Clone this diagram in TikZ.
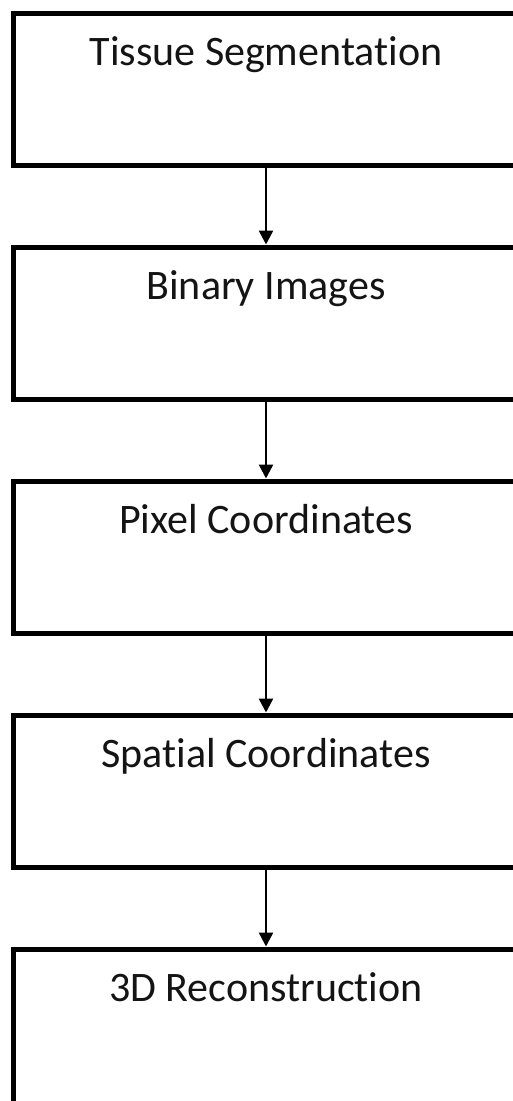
\documentclass[tikz,border=0pt]{standalone}
\usepackage{fontspec}
\setmainfont{Carlito}[Ligatures=NoCommon]
\usetikzlibrary{arrows.meta}
\begin{document}
\begin{tikzpicture}[x=1pt,y=1pt,
  stagebox/.style={draw=black, line width=5pt, rectangle, minimum width=505pt, minimum height=152pt, inner sep=0pt, anchor=north},
  stagelabel/.style={anchor=base, inner sep=0pt, text=black!92, font=\fontsize{42}{44}\selectfont},
  flow/.style={draw=black, line width=2.5pt, -{Triangle[width=14pt,length=14pt]}}]
\useasboundingbox (0,0) rectangle (512,-1101);
\fill[white] (0,0) rectangle (512,-1101);
% five process stages, stacked top to bottom; the last one runs off the page
\node[stagebox] (b1) at (266,-10.5) {};
\node[stagebox] (b2) at (266,-244.5) {};
\node[stagebox] (b3) at (266,-478.5) {};
\node[stagebox] (b4) at (266,-712.5) {};
\node[stagebox, minimum height=200pt] (b5) at (266,-946.5) {};
% stage titles
\node[stagelabel] (t1) at ([yshift=-55pt]b1.north) {Tissue Segmentation};
\node[stagelabel] (t2) at ([yshift=-55pt]b2.north) {Binary Images};
\node[stagelabel] (t3) at ([yshift=-55pt]b3.north) {Pixel Coordinates};
\node[stagelabel] (t4) at ([yshift=-55pt]b4.north) {Spatial Coordinates};
\node[stagelabel] (t5) at ([yshift=-55pt]b5.north) {3D Reconstruction};
% connectors between stages
\draw[flow] (b1.south) -- (b2.north);
\draw[flow] (b2.south) -- (b3.north);
\draw[flow] (b3.south) -- (b4.north);
\draw[flow] (b4.south) -- (b5.north);
\end{tikzpicture}
\end{document}
